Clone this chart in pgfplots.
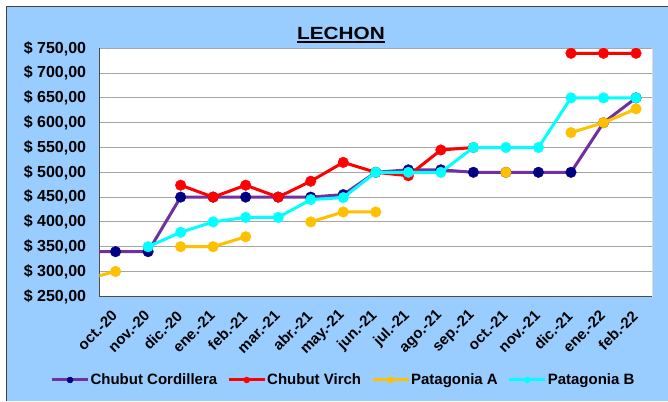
\documentclass[border=0pt]{standalone}
\usepackage{fontspec}
\setmainfont{Liberation Sans}
\usepackage{pgfplots}
\pgfplotsset{compat=1.18}
\pgfdeclarelayer{background}
\pgfsetlayers{background,main}
\definecolor{bgblue}{HTML}{99CCFF}
\definecolor{cordline}{HTML}{7030A0}
\definecolor{cordmark}{HTML}{000080}
\definecolor{virch}{HTML}{FF0000}
\definecolor{patA}{HTML}{FFC000}
\definecolor{patB}{HTML}{00FFFF}
\definecolor{gridgray}{HTML}{A6A6A6}
\begin{document}
\begin{tikzpicture}
\begin{axis}[name=ax, scale only axis,
  width=553pt, height=248pt,
  xmin=-0.5, xmax=16.5, ymin=250, ymax=750,
  clip marker paths=true,
  unbounded coords=jump,
  axis background/.style={fill=white, draw=black!15},
  axis lines*=left,
  axis line style={draw=black!70, line width=1pt, -},
  tick style={draw=none},
  ymajorgrids, grid style={gridgray, line width=0.9pt},
  ytick={250,300,...,750},
  xtick={0,...,16},
  xticklabels={oct.-20,nov.-20,dic.-20,ene.-21,feb.-21,mar.-21,abr.-21,may.-21,jun.-21,jul.-21,ago.-21,sep.-21,oct.-21,nov.-21,dic.-21,ene.-22,feb.-22},
  /pgf/number format/.cd, fixed, fixed zerofill, precision=2, use comma, 1000 sep={}, assume math mode=true,
  /pgfplots/.cd,
  yticklabel={\$~\pgfmathprintnumber{\tick}},
  yticklabel style={font=\bfseries\fontsize{16}{19}\selectfont, inner sep=0pt, anchor=east, xshift=-13pt},
  xticklabel style={font=\bfseries\fontsize{15}{18}\selectfont, xshift=-1pt, yshift=-17pt, rotate=45, anchor=east, inner sep=0pt},
  legend columns=4,
  legend cell align=left,
  legend style={at={(0.4407,-0.3375)}, anchor=center, draw=none, fill=none,
    font=\bfseries\fontsize{15}{18}\selectfont,
    nodes={inner xsep=1pt, inner ysep=0pt},
    /tikz/every even column/.append style={column sep=9pt}},
  legend image code/.code={\draw[mark repeat=2, mark phase=2, #1, line width=3pt, mark size=3pt] plot coordinates {(0pt,0pt) (18pt,0pt) (36pt,0pt)};},
]
\addplot[cordline, line width=3pt, mark=*, mark size=5.3pt, mark options={fill=cordmark, draw=cordmark, line width=0.4pt}] coordinates {(-1,340)(0,340)(1,340)(2,450)(3,450)(4,450)(5,450)(6,450)(7,455)(8,500)(9,505)(10,505)(11,500)(12,500)(13,500)(14,500)(15,600)(16,650)};
\addlegendentry{Chubut Cordillera}
\addplot[virch, line width=3pt, mark=*, mark size=5.3pt, mark options={fill=virch, draw=virch, line width=0.4pt}] coordinates {(0,nan)(1,nan)(2,474)(3,450)(4,474)(5,450)(6,482)(7,520)(8,500)(9,493)(10,545)(11,550)(12,nan)(13,nan)(14,740)(15,740)(16,740)};
\addlegendentry{Chubut Virch}
\addplot[patA, line width=3pt, mark=*, mark size=5.3pt, mark options={fill=patA, draw=patA, line width=0.4pt}] coordinates {(-1,283)(0,300)(1,nan)(2,350)(3,350)(4,370)(5,nan)(6,400)(7,420)(8,420)(9,nan)(10,nan)(11,nan)(12,500)(13,nan)(14,580)(15,600)(16,628)};
\addlegendentry{Patagonia A}
\addplot[patB, line width=3pt, mark=*, mark size=5.3pt, mark options={fill=patB, draw=patB, line width=0.4pt}] coordinates {(0,nan)(1,350)(2,379)(3,400)(4,409)(5,409)(6,445)(7,449)(8,500)(9,500)(10,500)(11,550)(12,550)(13,550)(14,650)(15,650)(16,650)};
\addlegendentry{Patagonia B}
\end{axis}
\path (ax.south west) ++(-99.3pt,-104.7pt) coordinate (O);
\begin{pgfonlayer}{background}
\begin{scope}[shift={(O)}, x=1pt, y=1pt]
\fill[white] (0,0) rectangle (668,401);
\fill[bgblue] (6.5,0) rectangle (668,394.5);
\draw[black!75, line width=1pt] (6.5,0) -- (6.5,394.5) -- (668,394.5);
\end{scope}
\end{pgfonlayer}
\begin{scope}[shift={(O)}, x=1pt, y=1pt]
\node[anchor=base, inner sep=0pt, font=\bfseries\fontsize{17.6}{20}\selectfont] at (341,361.7) {\scalebox{1.18}[1]{LECHON}};
\draw[line width=1.8pt] (297,358.7) -- (385,358.7);
\end{scope}
\pgfresetboundingbox
\path[use as bounding box] (O) rectangle ++(668pt,401pt);
\end{tikzpicture}
\end{document}
